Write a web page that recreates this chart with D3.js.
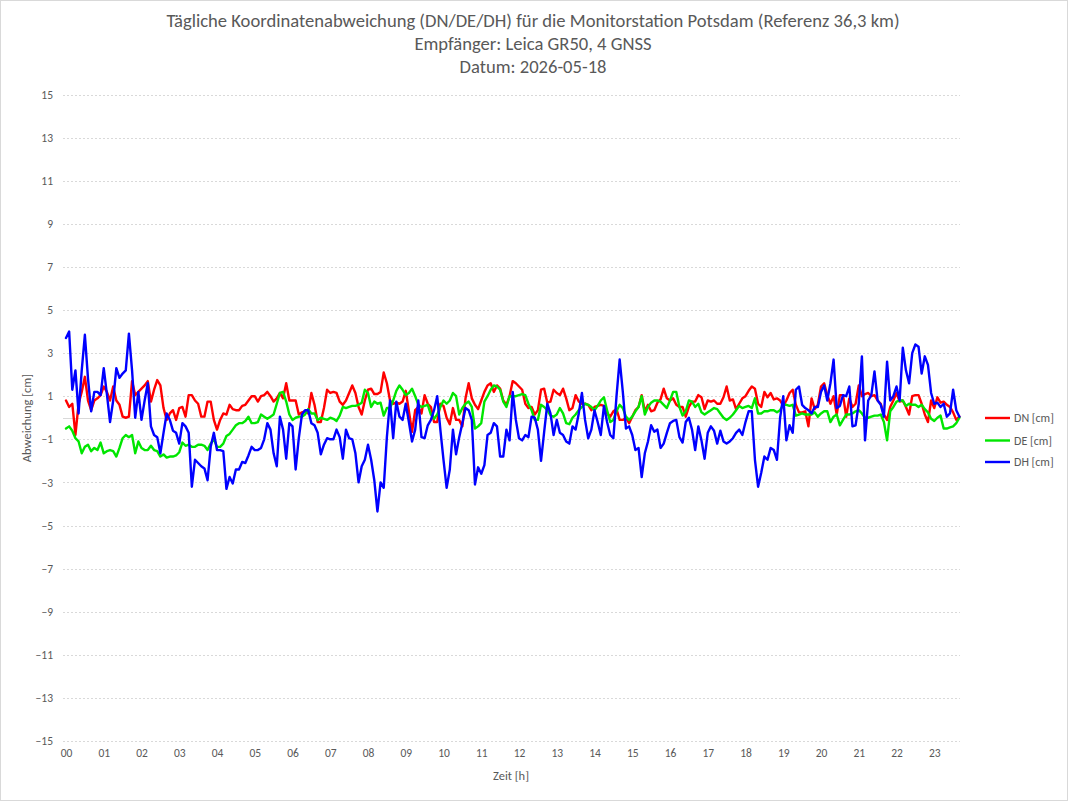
<!DOCTYPE html>
<html><head><meta charset="utf-8">
<script src="https://cdn.jsdelivr.net/npm/d3@7/dist/d3.min.js"></script>
<style>
body{margin:0;background:#fff;}
text{font-family: Carlito, Calibri, Lato, "Open Sans", sans-serif;}
</style>
</head><body>
<svg id="chart" width="1068" height="801"></svg>
<script>
// ---------- data ----------
const titleLines = [
  "Tägliche Koordinatenabweichung (DN/DE/DH) für die Monitorstation Potsdam (Referenz 36,3 km)",
  "Empfänger: Leica GR50, 4 GNSS",
  "Datum: 2026-05-18"
];
const yAxisTitle = "Abweichung [cm]";
const xAxisTitle = "Zeit [h]";
const seriesNames = ["DN [cm]", "DE [cm]", "DH [cm]"];
const yTicks = [-15,-13,-11,-9,-7,-5,-3,-1,1,3,5,7,9,11,13,15];
const xTickLabels = ["00","01","02","03","04","05","06","07","08","09","10","11","12","13","14","15","16","17","18","19","20","21","22","23"];
const startHour = 0;
const stepMinutes = 5;

const dn = [0.8,0.5,0.65,-0.8,0.65,1.2,1.9,0.8,0.35,0.8,0.9,1.05,1.45,1.2,0.8,1.45,0.8,0.6,0.05,0.0,0.05,1.7,1.05,1.2,1.35,1.5,1.7,0.75,1.3,1.75,1.5,0.45,-0.1,0.2,0.35,-0.1,0.45,0.5,0.05,1.05,1.05,0.8,0.65,0.05,0.05,0.75,0.75,-0.1,
-0.55,-0.1,0.2,0.15,0.6,0.4,0.35,0.35,0.55,0.6,0.8,1.0,1.0,0.75,1.0,1.05,1.2,1.0,0.75,0.9,1.15,0.9,1.6,0.8,0.8,0.8,0.15,0.25,0.3,0.2,1.15,0.6,-0.2,-0.2,0.45,1.3,1.15,1.2,1.15,0.75,0.6,0.8,1.15,1.5,1.15,0.5,0.15,0.8,1.3,
1.35,1.1,1.1,1.2,2.1,1.6,0.8,0.65,0.7,0.65,0.75,1.25,0.3,-0.65,0.35,0.5,0.2,1.05,0.65,0.5,-0.2,-0.2,0.65,0.55,0.0,-0.3,0.45,-0.1,-0.1,-0.4,0.9,1.6,0.9,0.6,0.4,0.8,1.2,1.5,1.6,1.2,1.5,1.35,0.8,0.6,1.0,1.7,1.6,1.45,1.3,
0.65,0.45,0.5,0.15,0.35,1.3,1.35,0.7,0.75,1.3,1.15,1.05,1.35,0.9,0.35,0.45,1.05,0.75,0.65,0.65,0.6,0.35,0.5,0.55,0.6,0.55,0.2,0.05,0.3,0.4,-0.1,-0.1,0.0,-0.25,0.05,0.35,0.5,1.05,0.3,0.6,0.3,0.35,0.7,0.85,1.35,0.9,0.8,0.9,0.6,0.5,
0.5,0.05,0.5,0.75,0.75,1.05,0.95,0.4,0.8,0.75,0.8,0.65,0.65,0.95,1.45,0.8,0.85,0.4,0.65,0.9,1.0,1.25,1.45,1.35,0.65,0.5,1.2,0.95,1.15,0.85,0.9,0.8,0.55,0.8,1.15,1.3,0.6,0.25,0.25,0.3,-0.4,0.9,0.4,0.6,1.45,1.6,1.05,0.65,1.0,
0.15,1.05,1.05,0.05,0.9,0.5,0.65,1.5,1.0,1.1,1.15,1.0,1.05,0.8,0.65,0.15,-0.1,0.5,0.8,1.15,0.75,0.8,0.5,0.15,1.0,1.05,1.05,0.65,0.15,-0.2,0.8,0.45,0.95,0.7,0.75,0.6,0.5,0.25,-0.1,0.05];

const de = [-0.5,-0.4,-0.6,-0.95,-1.1,-1.65,-1.35,-1.25,-1.55,-1.4,-1.5,-1.15,-1.65,-1.55,-1.5,-1.55,-1.8,-1.4,-0.95,-0.8,-0.9,-0.8,-1.65,-1.1,-1.4,-1.5,-1.5,-1.3,-1.5,-1.55,-1.8,-1.7,-1.85,-1.8,-1.8,-1.75,-1.6,-1.15,-1.3,-1.25,-1.35,-1.35,-1.25,-1.25,-1.3,-1.5,-1.2,-1.0,
-1.35,-1.35,-1.2,-0.85,-0.75,-0.55,-0.35,-0.25,-0.25,-0.15,0.05,-0.25,-0.25,-0.2,0.15,0.05,-0.05,0.05,0.15,0.65,1.15,1.2,0.75,0.15,-0.1,0.0,0.05,0.05,0.15,0.4,0.2,0.2,-0.1,0.0,-0.05,-0.1,0.0,-0.05,-0.15,0.1,0.5,0.45,0.5,0.55,0.55,0.6,0.7,1.3,1.15,
0.5,0.75,0.65,0.7,0.1,0.45,0.45,0.8,1.25,1.5,1.3,1.05,1.15,1.35,1.0,0.6,0.5,0.55,0.6,0.15,-0.05,0.15,0.5,0.8,0.65,0.8,1.15,1.0,0.15,0.45,0.65,0.75,0.5,-0.5,-0.4,-0.25,0.75,1.0,1.3,1.5,1.45,1.3,0.75,0.5,1.0,1.0,1.0,1.05,1.1,
1.05,0.65,0.35,-0.1,-0.1,0.6,0.5,0.35,0.1,0.05,0.15,0.45,0.2,-0.25,-0.3,0.0,0.15,0.35,0.5,0.65,0.6,0.5,0.35,0.55,0.8,0.95,0.35,-0.2,-0.1,0.3,0.6,0.45,0.05,-0.1,0.05,0.3,0.5,1.0,0.15,0.5,0.7,0.8,0.8,0.75,0.6,0.45,0.8,1.2,1.2,0.5,
0.1,0.3,0.8,0.75,0.5,0.65,0.25,0.15,0.25,0.35,0.45,0.4,0.2,0.0,-0.1,0.0,0.15,0.35,0.55,0.45,0.5,0.55,0.45,0.9,0.2,0.2,0.3,0.3,0.35,0.35,0.25,0.35,0.6,0.6,0.55,0.6,0.1,0.15,0.2,0.15,0.15,0.15,0.25,0.05,0.2,0.3,0.3,-0.2,0.05,
0.15,-0.35,-0.1,0.15,0.15,0.2,0.3,0.35,0.2,0.0,0.0,0.05,0.1,0.1,0.15,-0.2,-1.05,0.3,0.5,0.75,0.8,0.8,0.55,0.65,0.6,0.6,0.5,0.6,0.4,0.25,-0.05,-0.15,0.0,0.1,-0.5,-0.5,-0.45,-0.4,-0.25,0.0];

const dh = [3.7,4.0,1.3,2.2,0.2,2.2,3.85,1.8,0.3,1.2,1.2,1.05,2.3,1.1,-0.2,0.8,2.3,1.85,2.05,2.2,3.9,2.2,0.0,1.2,-0.1,0.8,1.6,-0.4,-0.8,-0.9,-1.65,-0.7,0.2,-0.1,-0.6,-0.7,-1.2,-0.25,-0.4,-0.7,-3.2,-1.95,-2.1,-2.25,-2.35,-2.9,-1.35,-0.7,
-1.5,-1.5,-1.55,-3.3,-2.75,-3.05,-2.4,-2.4,-2.05,-2.1,-1.75,-1.35,-1.5,-1.5,-1.4,-1.0,-0.25,-0.55,-1.65,-2.25,0.05,-0.55,-1.9,-0.25,-0.4,-2.4,-0.95,0.15,0.35,0.35,-0.25,-0.35,-0.7,-1.7,-1.25,-0.95,-1.0,-1.0,-0.55,-0.9,-1.9,-0.55,-0.95,-1.0,-1.65,-3.0,-2.25,-1.95,-1.25,
-1.95,-2.9,-4.35,-3.0,-3.25,-0.9,0.8,-0.95,0.75,0.05,-0.1,0.65,-0.2,-1.1,-0.55,0.8,-0.9,-0.95,-0.35,-0.1,0.35,1.0,-0.55,-1.95,-3.25,-2.4,-0.55,-1.7,-0.9,-0.25,0.45,0.35,-0.1,-3.1,-2.3,-2.6,-2.2,-0.8,-0.7,-0.25,-0.4,-1.8,-1.8,-0.55,-1.05,1.2,-0.1,-0.95,-1.05,
-0.8,-0.9,0.05,0.0,-0.55,-2.0,-0.65,0.65,0.2,-0.8,-0.1,-0.7,-0.8,-1.1,-1.2,-0.4,-0.55,0.2,1.15,-0.1,-0.95,-0.55,0.35,-0.2,-0.8,0.55,-0.2,-0.8,-0.95,1.0,2.7,1.2,-0.5,-0.4,-0.8,-1.5,-1.4,-2.75,-1.65,-1.1,-0.35,-0.65,-0.55,-1.4,-1.2,-0.7,-0.25,-0.15,-0.1,-0.9,
-1.15,-0.2,0.0,-0.55,-1.5,-0.4,-1.05,-1.9,-0.7,-0.4,-0.6,-1.2,-0.6,-1.1,-1.2,-1.1,-0.95,-0.7,-0.55,-0.8,-0.2,0.3,0.3,-1.95,-3.2,-2.55,-1.8,-1.95,-1.4,-1.5,-1.95,0.0,1.0,-1.05,-0.35,-0.7,1.3,1.45,0.6,0.45,0.35,0.2,0.5,0.5,1.2,1.5,0.8,1.6,2.7,
0.45,0.55,1.05,1.0,1.45,-0.4,-0.35,0.65,2.85,-1.05,0.8,1.05,2.15,0.8,0.6,0.05,2.6,0.8,1.0,1.45,0.8,3.25,2.2,1.6,3.0,3.4,3.3,2.05,2.85,2.45,1.15,0.65,0.7,0.5,0.65,0.05,0.2,1.3,0.35,0.05];

// ---------- layout ----------
const W = 1068, H = 801;
const plotLeft = 63, plotRight = 960;
const svg = d3.select("#chart");
const textColor = "#595959";

svg.append("rect").attr("x",0.5).attr("y",0.5).attr("width",W-1).attr("height",H-1)
  .attr("fill","#fff").attr("stroke","#d9d9d9").attr("stroke-width",1);

const x = d3.scaleLinear().domain([0, 24]).range([66, 972]);
const y = d3.scaleLinear().domain([-15, 15]).range([741, 94.5]);

// title
const title = svg.append("g");
const titleY = [27, 50, 73];
titleLines.forEach((t,i)=>{
  title.append("text").attr("x", 533).attr("y", titleY[i]).attr("text-anchor","middle")
    .attr("fill", textColor).attr("font-size", 18.6).text(t);
});

// gridlines
svg.append("g").selectAll("line").data(yTicks).join("line")
  .attr("x1", plotLeft).attr("x2", plotRight)
  .attr("y1", d=>Math.round(y(d))+0.5).attr("y2", d=>Math.round(y(d))+0.5)
  .attr("stroke","#d9d9d9").attr("stroke-width",1).attr("stroke-dasharray","2,2");

// zero axis line
svg.append("line").attr("x1", plotLeft).attr("x2", plotRight)
  .attr("y1", Math.round(y(0))+0.5).attr("y2", Math.round(y(0))+0.5)
  .attr("stroke","#d9d9d9").attr("stroke-width",1.2);

// y axis (labels only)
const yAxis = d3.axisLeft(y).tickValues(yTicks).tickSize(0).tickPadding(0).tickFormat(d3.format("d"));
const gy = svg.append("g").attr("transform","translate(53,0)").call(yAxis);
gy.select(".domain").remove();
gy.selectAll("text").attr("fill", textColor).attr("font-size", 11.5)
  .style("font-family","Carlito, Calibri, Lato, sans-serif");

// x axis (labels only)
const xAxis = d3.axisBottom(x).tickValues(d3.range(0,24)).tickSize(0).tickPadding(0)
  .tickFormat((d,i)=>xTickLabels[i]);
const gx = svg.append("g").attr("transform","translate(0,749)").call(xAxis);
gx.select(".domain").remove();
gx.selectAll("text").attr("fill", textColor).attr("font-size", 11.5)
  .style("font-family","Carlito, Calibri, Lato, sans-serif");

// axis titles
svg.append("text").attr("transform","translate(31,418) rotate(-90)").attr("text-anchor","middle")
  .attr("fill", textColor).attr("font-size", 12.5).text(yAxisTitle);
svg.append("text").attr("x", 511).attr("y", 780).attr("text-anchor","middle")
  .attr("fill", textColor).attr("font-size", 12.5).text(xAxisTitle);

// series
const colors = ["#ff0000", "#00e600", "#0000ff"];
const allSeries = [dn, de, dh];
const line = d3.line()
  .x((d,i)=>x(startHour + i*stepMinutes/60))
  .y(d=>y(d));
allSeries.forEach((s,i)=>{
  svg.append("path").datum(s).attr("d", line).attr("fill","none")
    .attr("stroke", colors[i]).attr("stroke-width", 2.4)
    .attr("stroke-linejoin","round").attr("stroke-linecap","round");
});

// legend
const legendY = [418, 440.5, 462];
const lg = svg.append("g");
seriesNames.forEach((n,i)=>{
  lg.append("line").attr("x1",985).attr("x2",1010).attr("y1",legendY[i]).attr("y2",legendY[i])
    .attr("stroke", colors[i]).attr("stroke-width", 2.4);
  lg.append("text").attr("x",1014).attr("y",legendY[i]).attr("dy","0.35em")
    .attr("fill", textColor).attr("font-size", 12).text(n);
});
</script>
</body></html>
